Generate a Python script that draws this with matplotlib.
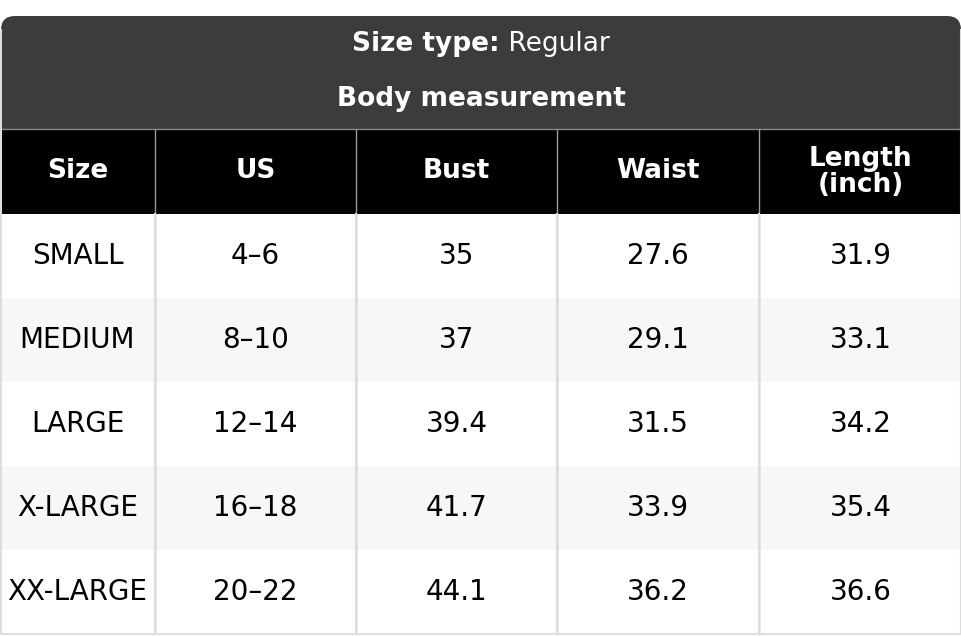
import matplotlib
matplotlib.use("Agg")
import matplotlib.pyplot as plt
from matplotlib.patches import Rectangle, FancyBboxPatch

sizes = ["SMALL", "MEDIUM", "LARGE", "X-LARGE", "XX-LARGE"]
us = ["4–6", "8–10", "12–14", "16–18", "20–22"]
bust = ["35", "37", "39.4", "41.7", "44.1"]
waist = ["27.6", "29.1", "31.5", "33.9", "36.2"]
length = ["31.9", "33.1", "34.2", "35.4", "36.6"]
headers = ["Size", "US", "Bust", "Waist", "Length\n(inch)"]

W, H = 962, 636
fig = plt.figure(figsize=(W/100, H/100), dpi=100)
ax = fig.add_axes([0, 0, 1, 1])
ax.set_xlim(0, W); ax.set_ylim(H, 0); ax.axis("off")

cols = [0, 155, 356, 557, 759, 962]
top, hdr_bot, colhdr_bot = 16, 129, 214
row_h = 84
fs = 20

# dark title block with rounded top
ax.add_patch(FancyBboxPatch((1, top), W-2, 60, boxstyle="round,pad=0,rounding_size=14",
                            fc="#3c3c3c", ec="none"))
ax.add_patch(Rectangle((1, top+30), W-2, hdr_bot-top-30, fc="#3c3c3c", ec="none"))
ax.text(W/2, 44, "Size type: ", ha="right", va="center", color="white", fontsize=fs-1,
        fontweight="bold", alpha=0)
t1 = ax.text(0, 44, "Size type:", ha="left", va="center", color="white", fontsize=fs-1, fontweight="bold")
t2 = ax.text(0, 44, " Regular", ha="left", va="center", color="white", fontsize=fs-1)
fig.canvas.draw()
r = fig.canvas.get_renderer()
w1 = t1.get_window_extent(r).width; w2 = t2.get_window_extent(r).width
x0 = W/2 - (w1+w2)/2
t1.set_x(x0); t2.set_x(x0+w1)
ax.text(W/2, 99, "Body measurement", ha="center", va="center", color="white",
        fontsize=fs-1, fontweight="bold")

# column header
ax.add_patch(Rectangle((0, hdr_bot), W, colhdr_bot-hdr_bot, fc="black", ec="none"))
for i, h in enumerate(headers):
    cx = (cols[i]+cols[i+1])/2
    ax.text(cx, (hdr_bot+colhdr_bot)/2, h, ha="center", va="center", color="white",
            fontsize=fs-1, fontweight="bold", linespacing=1.0)

data = [sizes, us, bust, waist, length]
for j in range(len(sizes)):
    y0 = colhdr_bot + j*row_h
    ax.add_patch(Rectangle((0, y0), W, row_h, fc="white" if j % 2 == 0 else "#f7f7f7", ec="none"))
    for i in range(5):
        ax.text((cols[i]+cols[i+1])/2, y0+row_h/2, data[i][j], ha="center", va="center",
                color="black", fontsize=fs)

bottom = colhdr_bot + len(sizes)*row_h
for x in cols[1:-1]:
    ax.plot([x, x], [hdr_bot, bottom], color="#9a9a9a", lw=1)
    ax.plot([x, x], [colhdr_bot, bottom], color="#dddddd", lw=1.5)
ax.plot([0, W], [hdr_bot, hdr_bot], color="#888888", lw=1)
ax.plot([1, 1], [top+14, bottom], color="#dddddd", lw=1.5)
ax.plot([W-1, W-1], [top+14, bottom], color="#dddddd", lw=1.5)
ax.plot([0, W], [bottom, bottom], color="#dddddd", lw=1.5)

fig.savefig("out.png", dpi=100)
